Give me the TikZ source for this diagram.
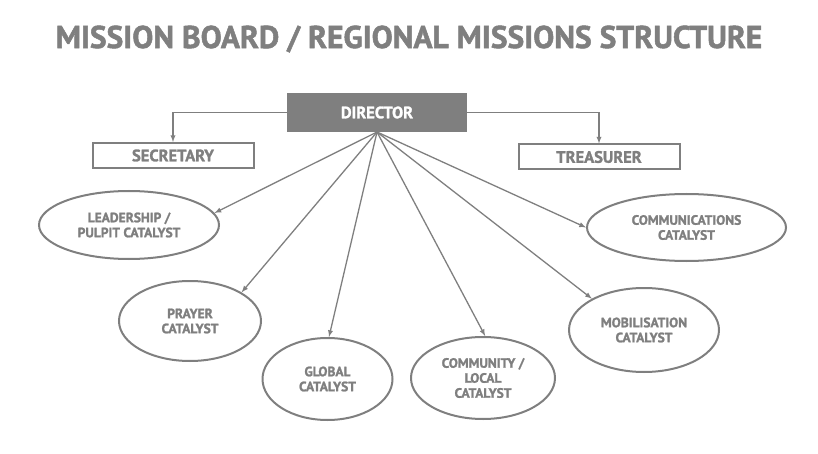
\documentclass[tikz,border=0pt]{standalone}
\usepackage{fontspec}
\setmainfont{PT Sans}[BoldFeatures={FakeBold=1.6}]
\usetikzlibrary{shapes}
\definecolor{boardgrey}{HTML}{7F7F7F}
\tikzstyle{title}=[text=boardgrey,
	font=\bfseries\fontsize{31.5}{34}\selectfont]
\tikzstyle{head}=[rectangle,
	draw=boardgrey,
	fill=boardgrey,
	line width=1pt,
	minimum width=179pt,
	minimum height=38pt,
	text=white,
	font=\bfseries\fontsize{16.5}{18}\selectfont]
\tikzstyle{office}=[rectangle,
	draw=boardgrey,
	line width=2pt,
	minimum width=161pt,
	minimum height=25pt,
	text=boardgrey,
	font=\bfseries\fontsize{16.5}{18}\selectfont]
\tikzstyle{catalyst}=[ellipse,
	draw=boardgrey,
	line width=2pt,
	inner sep=0pt,
	align=center,
	text=boardgrey,
	font=\bfseries\fontsize{13.5}{15}\selectfont]
\tikzstyle{link}=[-latex,
	draw=boardgrey,
	line width=1.3pt]

\begin{document}
\begin{tikzpicture}[x=1pt,y=-1pt]
	\useasboundingbox (0,0) rectangle (818,454);
	\node (heading) [title] at (409,39) {MISSION BOARD / REGIONAL MISSIONS STRUCTURE};

	\node (director) [head] at (377,112.5) {DIRECTOR};
	\node (secretary) [office] at (173,155.5) {SECRETARY};
	\node (treasurer) [office] at (599,157) {TREASURER};
	\draw[link] (director.west) -| (secretary.north);
	\draw[link] (director.east) -| (treasurer.north);

	\node (leadership) [catalyst, minimum width=180pt, minimum height=68pt] at (129,225) {LEADERSHIP /\\PULPIT CATALYST};
	\node (prayer) [catalyst, minimum width=142pt, minimum height=80pt] at (190,321) {PRAYER\\CATALYST};
	\node (global) [catalyst, minimum width=130pt, minimum height=82pt] at (327.5,379) {GLOBAL\\CATALYST};
	\node (community) [catalyst, minimum width=144pt, minimum height=82pt] at (483,378) {COMMUNITY /\\LOCAL\\CATALYST};
	\node (mobilisation) [catalyst, minimum width=150pt, minimum height=84pt] at (644,330) {MOBILISATION\\CATALYST};
	\node (communications) [catalyst, minimum width=199pt, minimum height=67pt] at (686.5,227.5) {COMMUNICATIONS\\CATALYST};

	\draw[link] (director.south) -- (leadership.8);
	\draw[link] (director.south) -- (prayer.29);
	\draw[link] (director.south) -- (global.88);
	\draw[link] (director.south) -- (community.87);
	\draw[link] (director.south) -- (mobilisation.149);
	\draw[link] (director.south) -- (communications.180);
\end{tikzpicture}
\end{document}
